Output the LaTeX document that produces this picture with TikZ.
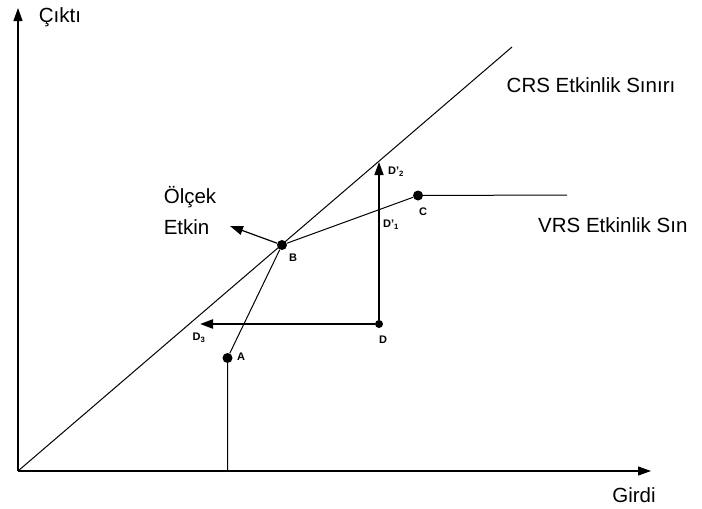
\documentclass[tikz,border=0pt]{standalone}
\usepackage{fontspec}
\setmainfont{Liberation Sans}
\usetikzlibrary{arrows.meta, positioning}

\begin{document}
\begin{tikzpicture}[
  x=1pt, y=-1pt,
  lbl/.style  = {font=\fontsize{20.5}{31}\selectfont, inner sep=0pt, align=left},
  tag/.style  = {font=\fontsize{11}{12}\selectfont\bfseries, inner sep=0pt},
  dot/.style  = {circle, fill, inner sep=0pt, minimum size=10pt},
  arr/.style  = {-{Triangle[length=13pt, width=9pt]}},
  frontier/.style = {line width=1pt},
]
\useasboundingbox (0,0) rectangle (702,509);

% axes
\coordinate (o)    at (18,471);
\coordinate (ytop) at (18,8);
\coordinate (xend) at (651,471);
\draw[arr, line width=1.2pt] (o) -- (ytop);
\draw[arr, line width=1.2pt] (o) -- (xend);
\node[lbl] (cikti) at (60,17)  {Çıktı};
\node[lbl] (girdi) at (634,495) {Girdi};

% frontiers
\coordinate (crs)  at (512,47);
\coordinate (vrs)  at (567,195);
\coordinate (abase) at (227.5,471);
\node[dot] (a) at (227.5,358) {};
\node[dot] (b) at (282,245) {};
\node[dot] (c) at (418,195.5) {};
\node[dot, minimum size=8pt] (d) at (379,324) {};
\coordinate (d2) at (379,162);
\coordinate (d3) at (200,324);
\coordinate (se) at (230,226);

\draw[frontier] (o) -- (crs);
\draw[frontier] (abase) -- (a) -- (b) -- (c) -- (vrs);
\draw[arr, line width=1.6pt] (d) -- (d2);
\draw[arr, line width=2.2pt] (d) -- (d3);
\draw[arr, line width=1.2pt] (b) -- (se);

% texts
\node[lbl] (crsl) at (591,85) {CRS Etkinlik Sınırı};
\node[lbl, anchor=west] (vrsl) at (538,225) {VRS Etkinlik Sın};
\node[lbl] (olcek) at (190,210) {Ölçek\\Etkin};

\node[tag] (ta)  at (241,357) {A};
\node[tag] (tb)  at (293,258) {B};
\node[tag] (tc)  at (423,212) {C};
\node[tag] (td)  at (383,340) {D};
\node[tag] (td1) at (391,225) {D'\textsubscript{1}};
\node[tag] (td2) at (396,172) {D'\textsubscript{2}};
\node[tag] (td3) at (199,338) {D\textsubscript{3}};
\end{tikzpicture}
\end{document}
